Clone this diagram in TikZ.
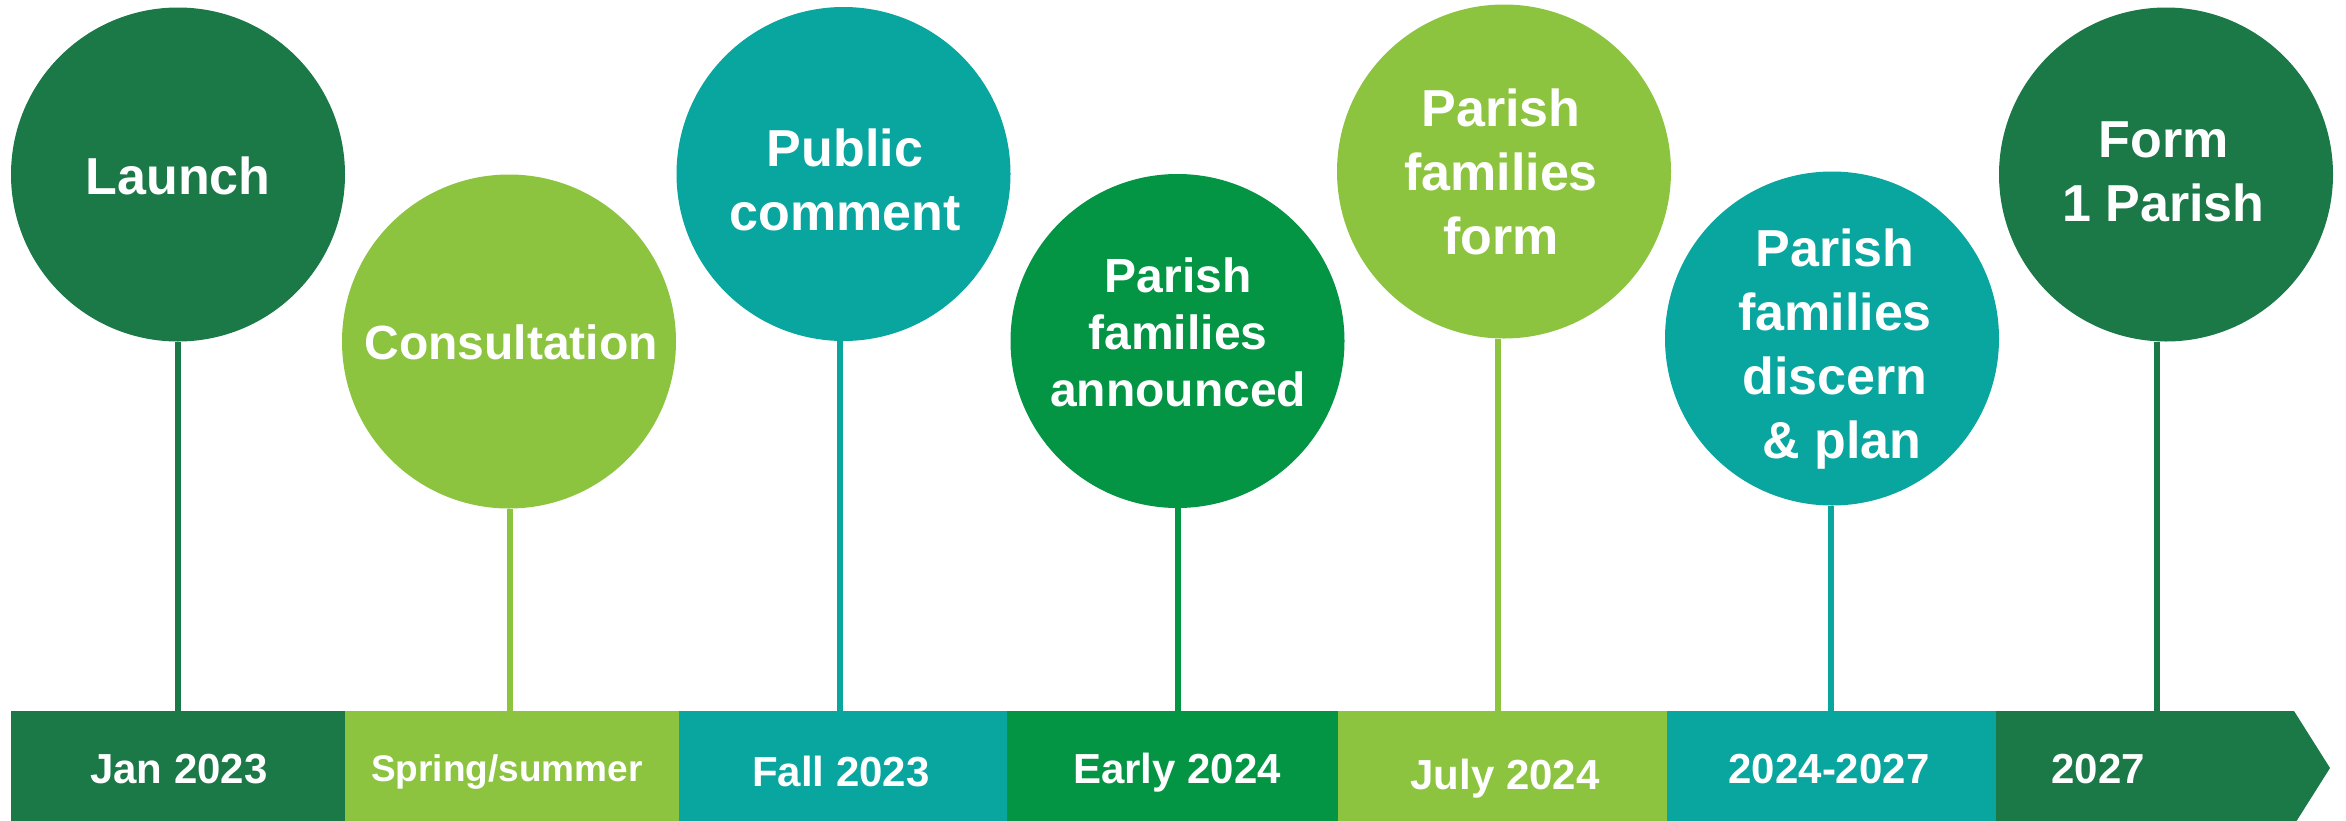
\documentclass[tikz,border=0pt]{standalone}
\usepackage{fontspec}
\setmainfont{Liberation Sans}
\definecolor{dkgreen}{HTML}{1B7847}
\definecolor{limec}{HTML}{8CC43F}
\definecolor{tealc}{HTML}{09A59F}
\definecolor{mdgreen}{HTML}{039444}
\begin{document}
\begin{tikzpicture}[x=0.5pt,y=-0.5pt,
  bubble/.style={circle,minimum size=167pt,inner sep=0pt,fill=#1},
  btext/.style={text=white,font=\fontsize{26}{32}\selectfont\bfseries,align=center,inner sep=0pt},
  btextsm/.style={text=white,font=\fontsize{24}{28.5}\selectfont\bfseries,align=center,inner sep=0pt},
  stemline/.style={draw=#1,line width=3pt},
  blabel/.style={text=white,font=\fontsize{21}{25}\selectfont\bfseries,anchor=base,inner sep=0pt},
]
\useasboundingbox (0,0) rectangle (2346,820);
\clip (0,0) rectangle (2346,820);

% bubbles
\node[bubble=dkgreen] (c1) at (178,174.5) {};
\node[bubble=limec]   (c2) at (509,341.5) {};
\node[bubble=tealc]   (c3) at (843.5,174) {};
\node[bubble=mdgreen] (c4) at (1177.5,341) {};
\node[bubble=limec]   (c5) at (1504,171.5) {};
\node[bubble=tealc]   (c6) at (1832,338.5) {};
\node[bubble=dkgreen] (c7) at (2166,174.5) {};

% bubble texts
\node[btext]   (t1) at (178,176) {Launch};
\node[btextsm] (t2) at (511,342.5) {Consultation};
\node[btext]   (t3) at (845,179.5) {Public\\comment};
\node[btextsm] (t4) at (1178,332) {Parish\\families\\announced};
\node[btext]   (t5) at (1501,171.5) {Parish\\families\\form};
\node[btext]   (t6) at (1835,349.5) {Parish\\families\\discern\\\ \& plan};
\node[btext]   (t7) at (2163.5,171.5) {Form\\1 Parish};

% bar top reference
\coordinate (bar) at (0,711);

% stems
\draw[stemline=dkgreen] (c1.south) -- (c1.south |- bar);
\draw[stemline=limec]   ([xshift=0.5pt]c2.south) -- ([xshift=0.5pt]c2.south |- bar);
\draw[stemline=tealc]   ([xshift=-1.75pt]c3.south) -- ([xshift=-1.75pt]c3.south |- bar);
\draw[stemline=mdgreen] (c4.south) -- (c4.south |- bar);
\draw[stemline=limec]   ([xshift=-3pt]c5.south) -- ([xshift=-3pt]c5.south |- bar);
\draw[stemline=tealc]   ([xshift=-0.5pt]c6.south) -- ([xshift=-0.5pt]c6.south |- bar);
\draw[stemline=dkgreen] ([xshift=-4.5pt]c7.south) -- ([xshift=-4.5pt]c7.south |- bar);

% bar segments
\fill[dkgreen] (11,711) rectangle (345.5,825);
\fill[limec]   (345,711) rectangle (679.5,825);
\fill[tealc]   (679,711) rectangle (1007.5,825);
\fill[mdgreen] (1007,711) rectangle (1338.5,825);
\fill[limec]   (1338,711) rectangle (1667.5,825);
\fill[tealc]   (1667,711) rectangle (1996.5,825);
\fill[dkgreen] (1996,711) -- (2294,711) -- (2330,768) -- (2294,825) -- (1996,825) -- cycle;

% bar labels
\node[blabel] (l1) at (179,783) {Jan 2023};
\node[blabel,font=\fontsize{18.5}{22}\selectfont\bfseries] (l2) at (507,781) {Spring/summer};
\node[blabel] (l3) at (841,786) {Fall 2023};
\node[blabel] (l4) at (1177,783) {Early 2024};
\node[blabel] (l5) at (1505,789) {July 2024};
\node[blabel] (l6) at (1829,783) {2024-2027};
\node[blabel] (l7) at (2098,783) {2027};
\end{tikzpicture}
\end{document}
